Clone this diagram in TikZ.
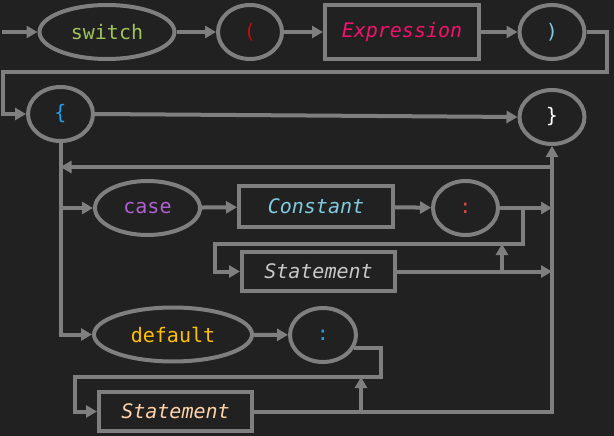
\documentclass[tikz,border=0pt]{standalone}
\usepackage{fontspec}
\setmonofont{DejaVu Sans Mono}
\usetikzlibrary{shapes.geometric,arrows.meta}
\definecolor{bg}{HTML}{212121}
\definecolor{ln}{HTML}{7F7F7F}
\definecolor{cswitch}{HTML}{A0C25A}
\definecolor{cparen}{HTML}{C80A0A}
\definecolor{cexpr}{HTML}{F5106C}
\definecolor{crparen}{HTML}{80C8E0}
\definecolor{clbrace}{HTML}{1EA0F0}
\definecolor{ccase}{HTML}{B060D0}
\definecolor{cconst}{HTML}{80CCE0}
\definecolor{ccolr}{HTML}{D04545}
\definecolor{cstmt}{HTML}{C8C8C8}
\definecolor{cdef}{HTML}{FFC000}
\definecolor{ccolb}{HTML}{20A0E0}
\definecolor{cstmtb}{HTML}{FFD2AA}
\begin{document}
\begin{tikzpicture}[x=1pt,y=-1pt,
 term/.style={ellipse,draw=ln,line width=4pt,minimum height=54pt,inner sep=0pt,font=\ttfamily\fontsize{20}{24}\selectfont},
 nterm/.style={rectangle,draw=ln,line width=4pt,inner sep=0pt,font=\ttfamily\itshape\fontsize{20}{24}\selectfont},
 conn/.style={draw=ln,line width=4pt},
 arr/.style={conn,-{Triangle[length=11pt,width=12pt]}},
]
\fill[bg] (0,0) rectangle (614,436);
\useasboundingbox (0,0) rectangle (614,436);

% nodes
\node[term,minimum width=135pt,text=cswitch] (sw) at (107,32) {switch};
\node[term,minimum width=64pt,text=cparen] (lp) at (250,32) {(};
\node[nterm,minimum width=154pt,minimum height=54pt,text=cexpr] (expr) at (402,32) {Expression};
\node[term,minimum width=65pt,text=crparen] (rp) at (552,32) {)};
\node[term,minimum width=65pt,text=clbrace] (lb) at (60.5,114) {\{};
\node[term,minimum width=65pt,text=white] (rb) at (552,117) {\}};
\node[term,minimum width=105pt,text=ccase] (case) at (147.5,208) {case};
\node[nterm,minimum width=154pt,minimum height=41pt,text=cconst] (const) at (316,206.5) {Constant};
\node[term,minimum width=65pt,text=ccolr] (rc) at (465.5,208) {:};
\node[nterm,minimum width=153pt,minimum height=39pt,text=cstmt] (st1) at (318.5,271.5) {Statement};
\node[term,minimum width=158pt,text=cdef] (def) at (173,334.5) {default};
\node[term,minimum width=66pt,text=ccolb] (bc) at (323,335) {:};
\node[nterm,minimum width=153pt,minimum height=39pt,text=cstmtb] (st2) at (175.5,411.5) {Statement};

% coordinates
\coordinate (start) at (2,32);
\coordinate (c1) at (607,72);
\coordinate (c2) at (3,72);
\coordinate (bl1) at (552,167);
\coordinate (bl2) at (60.5,167);
\coordinate (k1) at (523,208);
\coordinate (k2) at (523,244);
\coordinate (k3) at (215,244);
\coordinate (k4) at (502,271.5);
\coordinate (m2) at (381,377);
\coordinate (m3) at (75,377);
\coordinate (m4) at (361,411.5);

% connectors
\draw[arr] (start) -- (sw);
\draw[arr] (sw) -- (lp);
\draw[arr] (lp) -- (expr);
\draw[arr] (expr) -- (rp);
\draw[arr] (rp.east) -| (c1) -- (c2) |- (lb.west);
\draw[arr] (lb.east) -- (rb.west);
\draw[arr] (lb.south) |- (case.west);
\draw[arr] (lb.south) |- (def.west);
\draw[arr] (bl1) -- (bl2);
\draw[arr] (case) -- (const);
\draw[arr] (const) -- (rc);
\draw[arr] (rc.east) -- (rc.east -| rb.south);
\draw[arr] (k1) -- (k2) -- (k3) |- (st1.west);
\draw[arr] (st1.east) -- (st1.east -| rb.south);
\draw[arr] (k4) -- (k4 |- k2);
\draw[arr] (def) -- (bc);
\draw[arr] (bc.-23) -| (m2) -- (m3) |- (st2.west);
\draw[arr] (st2.east) -| (rb.south);
\draw[arr] (m4) -- (m4 |- m2);
\end{tikzpicture}
\end{document}
